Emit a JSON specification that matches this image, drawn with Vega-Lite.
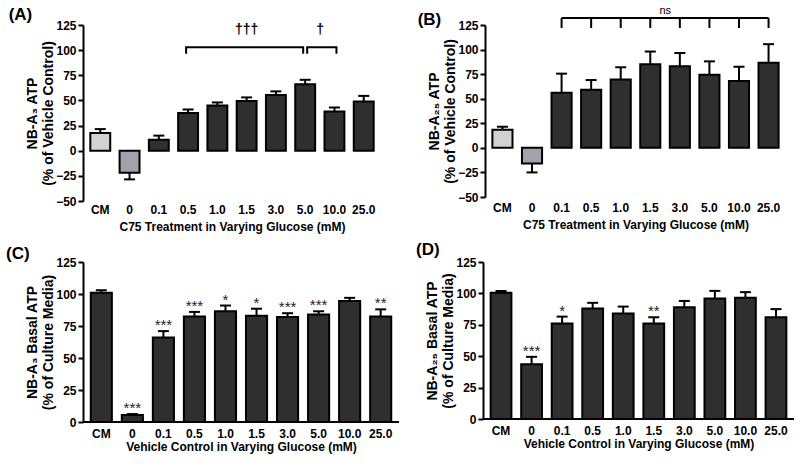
{
  "$schema": "https://vega.github.io/schema/vega-lite/v6.json",
  "background": "white",
  "padding": {"left": 5, "top": 5, "right": 5, "bottom": 3},
  "datasets": {
    "a": [
      {"cond": "CM", "grp": "cm", "mean": 17.5, "end": 21.5},
      {"cond": "0", "grp": "zero", "mean": -22, "end": -28.5},
      {"cond": "0.1", "grp": "treat", "mean": 11, "end": 15},
      {"cond": "0.5", "grp": "treat", "mean": 37.5, "end": 41},
      {"cond": "1.0", "grp": "treat", "mean": 45, "end": 48},
      {"cond": "1.5", "grp": "treat", "mean": 49.5, "end": 53},
      {"cond": "3.0", "grp": "treat", "mean": 55.5, "end": 59},
      {"cond": "5.0", "grp": "treat", "mean": 66, "end": 70.5},
      {"cond": "10.0", "grp": "treat", "mean": 39, "end": 43},
      {"cond": "25.0", "grp": "treat", "mean": 49, "end": 54.5}
    ],
    "b": [
      {"cond": "CM", "grp": "cm", "mean": 18.5, "end": 21.5},
      {"cond": "0", "grp": "zero", "mean": -16, "end": -25},
      {"cond": "0.1", "grp": "treat", "mean": 56, "end": 75.5},
      {"cond": "0.5", "grp": "treat", "mean": 59, "end": 69},
      {"cond": "1.0", "grp": "treat", "mean": 69.5, "end": 82},
      {"cond": "1.5", "grp": "treat", "mean": 85, "end": 98},
      {"cond": "3.0", "grp": "treat", "mean": 83, "end": 96.5},
      {"cond": "5.0", "grp": "treat", "mean": 74.5, "end": 88},
      {"cond": "10.0", "grp": "treat", "mean": 68, "end": 82.5},
      {"cond": "25.0", "grp": "treat", "mean": 86.5, "end": 105.5}
    ],
    "c": [
      {"cond": "CM", "grp": "treat", "mean": 101, "end": 103, "stars": ""},
      {"cond": "0", "grp": "treat", "mean": 5.5, "end": 6.2, "stars": "***"},
      {"cond": "0.1", "grp": "treat", "mean": 66, "end": 71, "stars": "***"},
      {"cond": "0.5", "grp": "treat", "mean": 82.5, "end": 86, "stars": "***"},
      {"cond": "1.0", "grp": "treat", "mean": 86.5, "end": 91, "stars": "*"},
      {"cond": "1.5", "grp": "treat", "mean": 83, "end": 88.5, "stars": "*"},
      {"cond": "3.0", "grp": "treat", "mean": 82, "end": 85, "stars": "***"},
      {"cond": "5.0", "grp": "treat", "mean": 84, "end": 86.5, "stars": "***"},
      {"cond": "10.0", "grp": "treat", "mean": 94.5, "end": 97, "stars": ""},
      {"cond": "25.0", "grp": "treat", "mean": 82.5, "end": 88, "stars": "**"}
    ],
    "d": [
      {"cond": "CM", "grp": "treat", "mean": 100.5, "end": 102, "stars": ""},
      {"cond": "0", "grp": "treat", "mean": 43.5, "end": 49.5, "stars": "***"},
      {"cond": "0.1", "grp": "treat", "mean": 76, "end": 81.5, "stars": "*"},
      {"cond": "0.5", "grp": "treat", "mean": 88, "end": 92.5, "stars": ""},
      {"cond": "1.0", "grp": "treat", "mean": 84, "end": 89.5, "stars": ""},
      {"cond": "1.5", "grp": "treat", "mean": 76, "end": 81, "stars": "**"},
      {"cond": "3.0", "grp": "treat", "mean": 89, "end": 94, "stars": ""},
      {"cond": "5.0", "grp": "treat", "mean": 96, "end": 102, "stars": ""},
      {"cond": "10.0", "grp": "treat", "mean": 96.5, "end": 101, "stars": ""},
      {"cond": "25.0", "grp": "treat", "mean": 81, "end": 87.5, "stars": ""}
    ],
    "bra1": [
      {"cond": "0.5", "v": 96.5, "o": 1},
      {"cond": "0.5", "v": 103, "o": 2},
      {"cond": "5.0", "v": 103, "o": 3},
      {"cond": "5.0", "v": 96.5, "o": 4}
    ],
    "bra2": [
      {"cond": "5.0", "v": 96.5, "o": 1},
      {"cond": "5.0", "v": 103, "o": 2},
      {"cond": "10.0", "v": 103, "o": 3},
      {"cond": "10.0", "v": 96.5, "o": 4}
    ],
    "legsB": [
      {"cond": "0.1", "v": 132, "v2": 122},
      {"cond": "0.5", "v": 132, "v2": 122},
      {"cond": "1.0", "v": 132, "v2": 122},
      {"cond": "1.5", "v": 132, "v2": 122},
      {"cond": "3.0", "v": 132, "v2": 122},
      {"cond": "5.0", "v": 132, "v2": 122},
      {"cond": "10.0", "v": 132, "v2": 122},
      {"cond": "25.0", "v": 132, "v2": 122}
    ],
    "barB": [{"from": "0.1", "to": "25.0", "v": 132}],
    "txt1": [{"cond": "1.5", "v": 120, "label": "†††"}],
    "txt2": [{"cond": "5.0", "v": 120, "label": "†"}],
    "txtB": [{"cond": "1.5", "v": 139, "label": "ns"}]
  },
  "config": {
    "font": "Liberation Sans",
    "view": {"stroke": null},
    "axis": {
      "grid": false,
      "domainColor": "black",
      "tickColor": "black",
      "labelColor": "black",
      "titleColor": "black",
      "labelFont": "Liberation Sans",
      "titleFont": "Liberation Sans",
      "labelFontSize": 12,
      "labelFontWeight": "bold",
      "titleFontWeight": "bold"
    },
    "axisY": {"domainWidth": 2, "tickWidth": 2, "tickSize": 5, "labelPadding": 2, "titlePadding": 0, "titleFontSize": 14, "titleLineHeight": 16},
    "axisX": {"domain": false, "ticks": false, "labelAngle": 0, "titleFontSize": 12, "labelOverlap": false},
    "title": {"fontSize": 17, "fontWeight": "bold", "anchor": "start", "frame": "bounds", "color": "black"}
  },
  "vconcat": [
    {
      "hconcat": [
        {
          "width": 298, "height": 176,
          "title": {"text": "(A)", "offset": -5, "dx": -17},
          "layer": [
            {
              "data": {"name": "a"},
              "mark": {"type": "bar", "stroke": "black", "strokeWidth": 2},
              "encoding": {
                "x": {"field": "cond", "type": "nominal", "scale": {"domain": ["CM", "0", "0.1", "0.5", "1.0", "1.5", "3.0", "5.0", "10.0", "25.0"], "paddingInner": 0.32, "paddingOuter": 0.25}, "axis": {"labelPadding": 3, "titlePadding": 6}, "title": "C75 Treatment in Varying Glucose (mM)"},
                "y": {"field": "mean", "type": "quantitative", "scale": {"domain": [-50, 125], "nice": false}, "axis": {"values": [-50, -25, 0, 25, 50, 75, 100, 125], "labelOverlap": false}, "title": ["NB-A₃ ATP", "(% of Vehicle Control)"]},
                "color": {"field": "grp", "type": "nominal", "scale": {"domain": ["cm", "zero", "treat"], "range": ["#d2d2d2", "#a2a2aa", "#2f2f2f"]}, "legend": null}
              }
            },
            {
              "data": {"name": "a"},
              "mark": {"type": "rule", "strokeWidth": 2, "color": "black"},
              "encoding": {"x": {"field": "cond", "type": "nominal"}, "y": {"field": "mean", "type": "quantitative", "axis": {"values": [-50, -25, 0, 25, 50, 75, 100, 125], "labelOverlap": false}, "title": ["NB-A₃ ATP", "(% of Vehicle Control)"]}, "y2": {"field": "end"}}
            },
            {
              "data": {"name": "a"},
              "mark": {"type": "tick", "size": 11, "thickness": 2, "color": "black", "opacity": 1},
              "encoding": {"x": {"field": "cond", "type": "nominal"}, "y": {"field": "end", "type": "quantitative", "axis": {"values": [-50, -25, 0, 25, 50, 75, 100, 125], "labelOverlap": false}, "title": ["NB-A₃ ATP", "(% of Vehicle Control)"]}}
            },
            {"mark": {"type": "rule", "strokeWidth": 2, "color": "black"}, "encoding": {"y": {"datum": 0, "type": "quantitative", "axis": {"values": [-50, -25, 0, 25, 50, 75, 100, 125], "labelOverlap": false}, "title": ["NB-A₃ ATP", "(% of Vehicle Control)"]}}},
            {
              "data": {"name": "bra1"},
              "mark": {"type": "line", "strokeWidth": 2, "color": "black", "xOffset": -2},
              "encoding": {"x": {"field": "cond", "type": "nominal"}, "y": {"field": "v", "type": "quantitative", "axis": {"values": [-50, -25, 0, 25, 50, 75, 100, 125], "labelOverlap": false}, "title": ["NB-A₃ ATP", "(% of Vehicle Control)"]}, "order": {"field": "o"}}
            },
            {
              "data": {"name": "bra2"},
              "mark": {"type": "line", "strokeWidth": 2, "color": "black", "xOffset": 2},
              "encoding": {"x": {"field": "cond", "type": "nominal"}, "y": {"field": "v", "type": "quantitative", "axis": {"values": [-50, -25, 0, 25, 50, 75, 100, 125], "labelOverlap": false}, "title": ["NB-A₃ ATP", "(% of Vehicle Control)"]}, "order": {"field": "o"}}
            },
            {
              "data": {"name": "txt1"},
              "mark": {"type": "text", "fontSize": 14, "fontWeight": "bold", "baseline": "middle", "color": "black"},
              "encoding": {"x": {"field": "cond", "type": "nominal"}, "y": {"field": "v", "type": "quantitative", "axis": {"values": [-50, -25, 0, 25, 50, 75, 100, 125], "labelOverlap": false}, "title": ["NB-A₃ ATP", "(% of Vehicle Control)"]}, "text": {"field": "label"}}
            },
            {
              "data": {"name": "txt2"},
              "mark": {"type": "text", "fontSize": 14, "fontWeight": "bold", "baseline": "middle", "color": "black", "dx": 15},
              "encoding": {"x": {"field": "cond", "type": "nominal"}, "y": {"field": "v", "type": "quantitative", "axis": {"values": [-50, -25, 0, 25, 50, 75, 100, 125], "labelOverlap": false}, "title": ["NB-A₃ ATP", "(% of Vehicle Control)"]}, "text": {"field": "label"}}
            }
          ]
        },
        {
          "width": 301, "height": 172,
          "title": {"text": "(B)", "offset": -24, "dx": -10},
          "layer": [
            {
              "data": {"name": "b"},
              "mark": {"type": "bar", "stroke": "black", "strokeWidth": 2},
              "encoding": {
                "x": {"field": "cond", "type": "nominal", "scale": {"domain": ["CM", "0", "0.1", "0.5", "1.0", "1.5", "3.0", "5.0", "10.0", "25.0"], "paddingInner": 0.32, "paddingOuter": 0.25}, "axis": {"labelPadding": 5, "titlePadding": 6}, "title": "C75 Treatment in Varying Glucose (mM)"},
                "y": {"field": "mean", "type": "quantitative", "scale": {"domain": [-50, 125], "nice": false}, "axis": {"values": [-50, -25, 0, 25, 50, 75, 100, 125], "labelOverlap": false}, "title": ["NB-A₂₅ ATP", "(% of Vehicle Control)"]},
                "color": {"field": "grp", "type": "nominal", "scale": {"domain": ["cm", "zero", "treat"], "range": ["#d2d2d2", "#a2a2aa", "#2f2f2f"]}, "legend": null}
              }
            },
            {
              "data": {"name": "b"},
              "mark": {"type": "rule", "strokeWidth": 2, "color": "black"},
              "encoding": {"x": {"field": "cond", "type": "nominal"}, "y": {"field": "mean", "type": "quantitative", "axis": {"values": [-50, -25, 0, 25, 50, 75, 100, 125], "labelOverlap": false}, "title": ["NB-A₂₅ ATP", "(% of Vehicle Control)"]}, "y2": {"field": "end"}}
            },
            {
              "data": {"name": "b"},
              "mark": {"type": "tick", "size": 11, "thickness": 2, "color": "black", "opacity": 1},
              "encoding": {"x": {"field": "cond", "type": "nominal"}, "y": {"field": "end", "type": "quantitative", "axis": {"values": [-50, -25, 0, 25, 50, 75, 100, 125], "labelOverlap": false}, "title": ["NB-A₂₅ ATP", "(% of Vehicle Control)"]}}
            },
            {"mark": {"type": "rule", "strokeWidth": 2, "color": "black"}, "encoding": {"y": {"datum": 0, "type": "quantitative", "axis": {"values": [-50, -25, 0, 25, 50, 75, 100, 125], "labelOverlap": false}, "title": ["NB-A₂₅ ATP", "(% of Vehicle Control)"]}}},
            {
              "data": {"name": "barB"},
              "mark": {"type": "rule", "strokeWidth": 2, "color": "black"},
              "encoding": {"x": {"field": "from", "type": "nominal"}, "x2": {"field": "to"}, "y": {"field": "v", "type": "quantitative", "axis": {"values": [-50, -25, 0, 25, 50, 75, 100, 125], "labelOverlap": false}, "title": ["NB-A₂₅ ATP", "(% of Vehicle Control)"]}}
            },
            {
              "data": {"name": "legsB"},
              "mark": {"type": "rule", "strokeWidth": 2, "color": "black"},
              "encoding": {"x": {"field": "cond", "type": "nominal"}, "y": {"field": "v", "type": "quantitative", "axis": {"values": [-50, -25, 0, 25, 50, 75, 100, 125], "labelOverlap": false}, "title": ["NB-A₂₅ ATP", "(% of Vehicle Control)"]}, "y2": {"field": "v2"}}
            },
            {
              "data": {"name": "txtB"},
              "mark": {"type": "text", "fontSize": 11, "baseline": "middle", "color": "black", "dx": 15},
              "encoding": {"x": {"field": "cond", "type": "nominal"}, "y": {"field": "v", "type": "quantitative", "axis": {"values": [-50, -25, 0, 25, 50, 75, 100, 125], "labelOverlap": false}, "title": ["NB-A₂₅ ATP", "(% of Vehicle Control)"]}, "text": {"field": "label"}}
            }
          ]
        }
      ],
      "spacing": 36
    },
    {
      "hconcat": [
        {
          "width": 316, "height": 160,
          "title": {"text": "(C)", "offset": -7, "dx": -20},
          "data": {"name": "c"},
          "layer": [
            {
              "mark": {"type": "bar", "stroke": "black", "strokeWidth": 2, "color": "#2f2f2f"},
              "encoding": {
                "x": {"field": "cond", "type": "nominal", "scale": {"domain": ["CM", "0", "0.1", "0.5", "1.0", "1.5", "3.0", "5.0", "10.0", "25.0"], "paddingInner": 0.32, "paddingOuter": 0.25}, "axis": {"labelPadding": 6, "titlePadding": 2}, "title": "Vehicle Control in Varying Glucose (mM)"},
                "y": {"field": "mean", "type": "quantitative", "scale": {"domain": [0, 125], "nice": false}, "axis": {"values": [0, 25, 50, 75, 100, 125], "labelOverlap": false}, "title": ["NB-A₃ Basal ATP", "(% of Culture Media)"]}
              }
            },
            {
              "mark": {"type": "rule", "strokeWidth": 2, "color": "black"},
              "encoding": {"x": {"field": "cond", "type": "nominal"}, "y": {"field": "mean", "type": "quantitative", "axis": {"values": [0, 25, 50, 75, 100, 125], "labelOverlap": false}, "title": ["NB-A₃ Basal ATP", "(% of Culture Media)"]}, "y2": {"field": "end"}}
            },
            {
              "mark": {"type": "tick", "size": 11, "thickness": 2, "color": "black", "opacity": 1},
              "encoding": {"x": {"field": "cond", "type": "nominal"}, "y": {"field": "end", "type": "quantitative", "axis": {"values": [0, 25, 50, 75, 100, 125], "labelOverlap": false}, "title": ["NB-A₃ Basal ATP", "(% of Culture Media)"]}}
            },
            {
              "mark": {"type": "text", "fontSize": 15, "baseline": "alphabetic", "dy": -1, "color": "#222222"},
              "encoding": {"x": {"field": "cond", "type": "nominal"}, "y": {"field": "end", "type": "quantitative", "axis": {"values": [0, 25, 50, 75, 100, 125], "labelOverlap": false}, "title": ["NB-A₃ Basal ATP", "(% of Culture Media)"]}, "text": {"field": "stars"}}
            },
            {"mark": {"type": "rule", "strokeWidth": 2, "color": "black"}, "encoding": {"y": {"datum": 0, "type": "quantitative", "axis": {"values": [0, 25, 50, 75, 100, 125], "labelOverlap": false}, "title": ["NB-A₃ Basal ATP", "(% of Culture Media)"]}}}
          ]
        },
        {
          "width": 311, "height": 157,
          "title": {"text": "(D)", "offset": -3, "dx": -10},
          "data": {"name": "d"},
          "layer": [
            {
              "mark": {"type": "bar", "stroke": "black", "strokeWidth": 2, "color": "#2f2f2f"},
              "encoding": {
                "x": {"field": "cond", "type": "nominal", "scale": {"domain": ["CM", "0", "0.1", "0.5", "1.0", "1.5", "3.0", "5.0", "10.0", "25.0"], "paddingInner": 0.32, "paddingOuter": 0.25}, "axis": {"labelPadding": 6, "titlePadding": 2}, "title": "Vehicle Control in Varying Glucose (mM)"},
                "y": {"field": "mean", "type": "quantitative", "scale": {"domain": [0, 125], "nice": false}, "axis": {"values": [0, 25, 50, 75, 100, 125], "labelOverlap": false}, "title": ["NB-A₂₅ Basal ATP", "(% of Culture Media)"]}
              }
            },
            {
              "mark": {"type": "rule", "strokeWidth": 2, "color": "black"},
              "encoding": {"x": {"field": "cond", "type": "nominal"}, "y": {"field": "mean", "type": "quantitative", "axis": {"values": [0, 25, 50, 75, 100, 125], "labelOverlap": false}, "title": ["NB-A₂₅ Basal ATP", "(% of Culture Media)"]}, "y2": {"field": "end"}}
            },
            {
              "mark": {"type": "tick", "size": 11, "thickness": 2, "color": "black", "opacity": 1},
              "encoding": {"x": {"field": "cond", "type": "nominal"}, "y": {"field": "end", "type": "quantitative", "axis": {"values": [0, 25, 50, 75, 100, 125], "labelOverlap": false}, "title": ["NB-A₂₅ Basal ATP", "(% of Culture Media)"]}}
            },
            {
              "mark": {"type": "text", "fontSize": 15, "baseline": "alphabetic", "dy": -1, "color": "#222222"},
              "encoding": {"x": {"field": "cond", "type": "nominal"}, "y": {"field": "end", "type": "quantitative", "axis": {"values": [0, 25, 50, 75, 100, 125], "labelOverlap": false}, "title": ["NB-A₂₅ Basal ATP", "(% of Culture Media)"]}, "text": {"field": "stars"}}
            },
            {"mark": {"type": "rule", "strokeWidth": 2, "color": "black"}, "encoding": {"y": {"datum": 0, "type": "quantitative", "axis": {"values": [0, 25, 50, 75, 100, 125], "labelOverlap": false}, "title": ["NB-A₂₅ Basal ATP", "(% of Culture Media)"]}}}
          ]
        }
      ],
      "spacing": 15
    }
  ],
  "spacing": 9
}
